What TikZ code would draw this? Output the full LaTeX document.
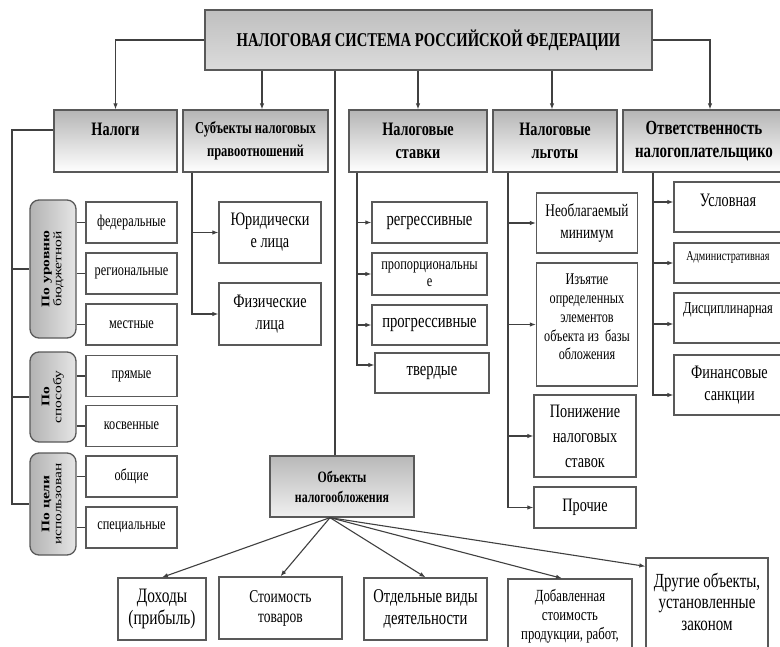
\documentclass[tikz,border=0pt]{standalone}
\usepackage{fontspec}
\setmainfont{Liberation Serif}[FakeStretch=0.75]
\newfontfamily\pillfont{Liberation Serif}
\usetikzlibrary{arrows.meta,calc}
\newcommand{\fs}[2]{\fontsize{#1}{#2}\selectfont}
\newcommand{\pilltext}[2]{\scalebox{1}[0.75]{\begin{tabular}{@{}c@{}}\textbf{#1}\\#2\end{tabular}}}
\begin{document}
\begin{tikzpicture}[x=1pt,y=-1pt,
 ln/.style={draw=black!75,line width=1.1pt},
 arr/.style={ln,-{Latex[length=6pt,width=4.5pt]}},
 box/.style={draw=black!65,line width=1.3pt,fill=white,align=center,inner sep=1pt},
 hdr/.style={box,top color=gray!58,bottom color=white,minimum height=62pt,font=\fs{19}{23}\bfseries},
 pill/.style={box,rounded corners=9pt,left color=gray!60,right color=gray!20,rotate=90,minimum height=46pt,font=\pillfont\fs{15.5}{16}},
 sm/.style={box,minimum width=91pt,minimum height=41pt,font=\fs{16.4}{18}},
 st/.style={box,minimum width=115pt,minimum height=41pt,font=\fs{19.5}{20}},
 lg/.style={box,minimum width=101pt},
 ot/.style={box,minimum width=111pt},
 bt/.style={box,minimum height=62pt},
 txt/.style={align=center,inner sep=0pt}
]
\useasboundingbox (0,0) rectangle (780,646);
\clip (0,0) rectangle (780,646);
\fill[white] (0,0) rectangle (780,646);

% title
\node[box,top color=gray!50,bottom color=gray!28,minimum width=447pt,minimum height=60pt,font=\fs{19.5}{22}\bfseries] (title) at (428.5,40) {НАЛОГОВАЯ СИСТЕМА РОССИЙСКОЙ ФЕДЕРАЦИИ};

% headers
\node[hdr,minimum width=123pt] (nal) at (115.5,141) {Налоги\\\mbox{}};
\node[hdr,minimum width=145pt,font=\fs{16.7}{23}\bfseries] (sub) at (255.5,141) {Субъекты налоговых\\правоотношений};
\node[hdr,minimum width=138pt] (stav) at (418,141) {Налоговые\\ставки};
\node[hdr,minimum width=124pt] (lgot) at (555,141) {Налоговые\\льготы};
\node[hdr,minimum width=162pt,font=\fs{20}{23}\bfseries] (otv) at (704,141) {Ответственность\\налогоплательщико};

% title connectors
\draw[arr] (title.west) -| (nal.north);
\coordinate (t1) at ([xshift=6.5pt]sub.north);
\draw[arr] (t1 |- title.south) -- (t1);
\draw[arr] (stav.north |- title.south) -- (stav.north);
\draw[arr] ([xshift=-3pt]lgot.north |- title.south) -- ([xshift=-3pt]lgot.north);
\draw[arr] (title.east) -| ([xshift=6pt]otv.north);

% pills
\node[pill,minimum width=138pt] (p1) at (53,269) {\pilltext{По уровню}{бюджетной}};
\node[pill,minimum width=90pt] (p2) at (53,397) {\pilltext{По}{способу}};
\node[pill,minimum width=102pt] (p3) at (53,504) {\pilltext{По цели}{использован}};

\coordinate (spT) at (12,130);
\draw[ln] ([yshift=11pt]nal.west) -- (spT) |- (p3.north);
\draw[ln] (spT |- p1.north) -- (p1.north);
\draw[ln] (spT |- p2.north) -- (p2.north);

% small boxes
\node[sm] (fed) at (131.5,222.5) {федеральные};
\node[sm] (reg) at (131.5,273.5) {региональные};
\node[sm] (mest) at (131.5,324.5) {местные};
\node[sm] (pr) at (131.5,376) {прямые};
\node[sm] (kos) at (131.5,426) {косвенные};
\node[sm] (ob) at (131.5,476.5) {общие};
\node[sm] (spec) at (131.5,527.5) {специальные};
\foreach \b/\p in {fed/p1,reg/p1,mest/p1,pr/p2,kos/p2,ob/p3,spec/p3}
  \draw[ln] (\p.south |- \b.west) -- (\b.west);

% subjects
\node[box,minimum width=102pt,minimum height=61pt,font=\fs{19}{22}] (jur) at (270,232.5) {Юридически\\е лица};
\node[box,minimum width=102pt,minimum height=62pt,font=\fs{19}{22}] (fiz) at (270,314) {Физические\\лица};
\coordinate (s1) at ([xshift=-63.5pt]sub.south);
\draw[arr] (s1) |- (jur.west);
\draw[arr] (s1) |- (fiz.west);

% rates
\node[st] (rg) at (429.5,222.5) {регрессивные};
\node[st,minimum height=42pt,font=\fs{16.5}{17.5}] (prop) at (429.5,274) {пропорциональны\\е};
\node[st,minimum height=40pt] (prog) at (429.5,325) {прогрессивные};
\node[st,minimum width=114pt,minimum height=40pt] (tv) at (432,373) {твердые};
\coordinate (s2) at ([xshift=-61pt]stav.south);
\draw[arr] (s2) |- (rg.west);
\draw[arr] (s2) |- (prop.west);
\draw[arr] (s2) |- (prog.west);
\draw[arr] (s2) |- ([yshift=8pt]tv.west);

% benefits
\node[lg,minimum height=60pt,font=\fs{17.8}{22}] (neob) at (587,223) {Необлагаемый\\минимум};
\node[lg,minimum height=123pt] (izy) at (587,324.5) {};
\node[txt,font=\fs{16.3}{18.8}] (izyT) at (587,317) {Изъятие\\определенных\\элементов\\объекта из\ \ базы\\обложения};
\node[lg,minimum width=102pt,minimum height=82pt,font=\fs{19}{25}] (pon) at (585,436) {Понижение\\налоговых\\ставок};
\node[lg,minimum width=102pt,minimum height=41pt,font=\fs{19}{22}] (proch) at (585,507.5) {Прочие};
\coordinate (s3) at ([xshift=-47pt]lgot.south);
\draw[arr] (s3) |- (neob.west);
\draw[arr] (s3) |- (izy.west);
\draw[arr] (s3) |- (pon.west);
\draw[arr] (s3) |- (proch.west);

% responsibility
\node[ot,minimum height=50pt] (usl) at (729.5,207) {};
\node[txt,font=\fs{19}{22}] (uslT) at (728,200) {Условная};
\node[ot,minimum height=40pt] (adm) at (729.5,263) {};
\node[txt,font=\fs{13.6}{15}] (admT) at (728,257) {Административная};
\node[ot,minimum height=50pt] (disc) at (729.5,318) {};
\node[txt,font=\fs{16.6}{17}] (discT) at (728,310) {Дисциплинарная};
\node[ot,minimum height=60pt,font=\fs{19}{22}] (fin) at (729.5,385) {Финансовые\\санкции};
\coordinate (s4) at ([xshift=-51pt]otv.south);
\draw[arr] (s4) |- ([yshift=5pt]usl.west);
\draw[arr] (s4) |- (adm.west);
\draw[arr] (s4) |- ([yshift=-6pt]disc.west);
\draw[arr] (s4) |- ([yshift=-10pt]fin.west);

% objects
\node[box,top color=gray!55,bottom color=gray!12,minimum width=144pt,minimum height=61pt,font=\fs{15.8}{20}\bfseries] (obj) at (342,486.5) {Объекты\\налогообложения};
\coordinate (o1) at ([xshift=-7pt]obj.north);
\draw[ln] (o1 |- title.south) -- (o1);

\node[bt,minimum width=88pt,font=\fs{20.5}{22}] (doh) at (162,609) {Доходы\\(прибыль)};
\node[bt,minimum width=123pt,font=\fs{18}{20}] (stoim) at (280.5,608) {Стоимость\\товаров};
\node[bt,minimum width=123pt,font=\fs{19.5}{22}] (otd) at (425.5,609) {Отдельные виды\\деятельности};
\node[box,minimum width=124pt,minimum height=86pt] (dob) at (570,622) {};
\node[txt,font=\fs{17}{19}] (dobT) at (570,616) {Добавленная\\стоимость\\продукции, работ,};
\node[box,minimum width=122pt,minimum height=107pt] (dr) at (707,611.5) {};
\node[txt,font=\fs{20}{21.5}] (drT) at (707,601.5) {Другие объекты,\\установленные\\законом};

\coordinate (o2) at ([xshift=-12pt]obj.south);
\draw[arr] (o2) -- (doh.north);
\draw[arr] (o2) -- (stoim.north);
\draw[arr] (o2) -- (otd.north);
\draw[arr] (o2) -- ([xshift=-8pt]dob.north);
\draw[arr] (o2) -- ([yshift=-9pt]dr.north west);
\end{tikzpicture}
\end{document}
